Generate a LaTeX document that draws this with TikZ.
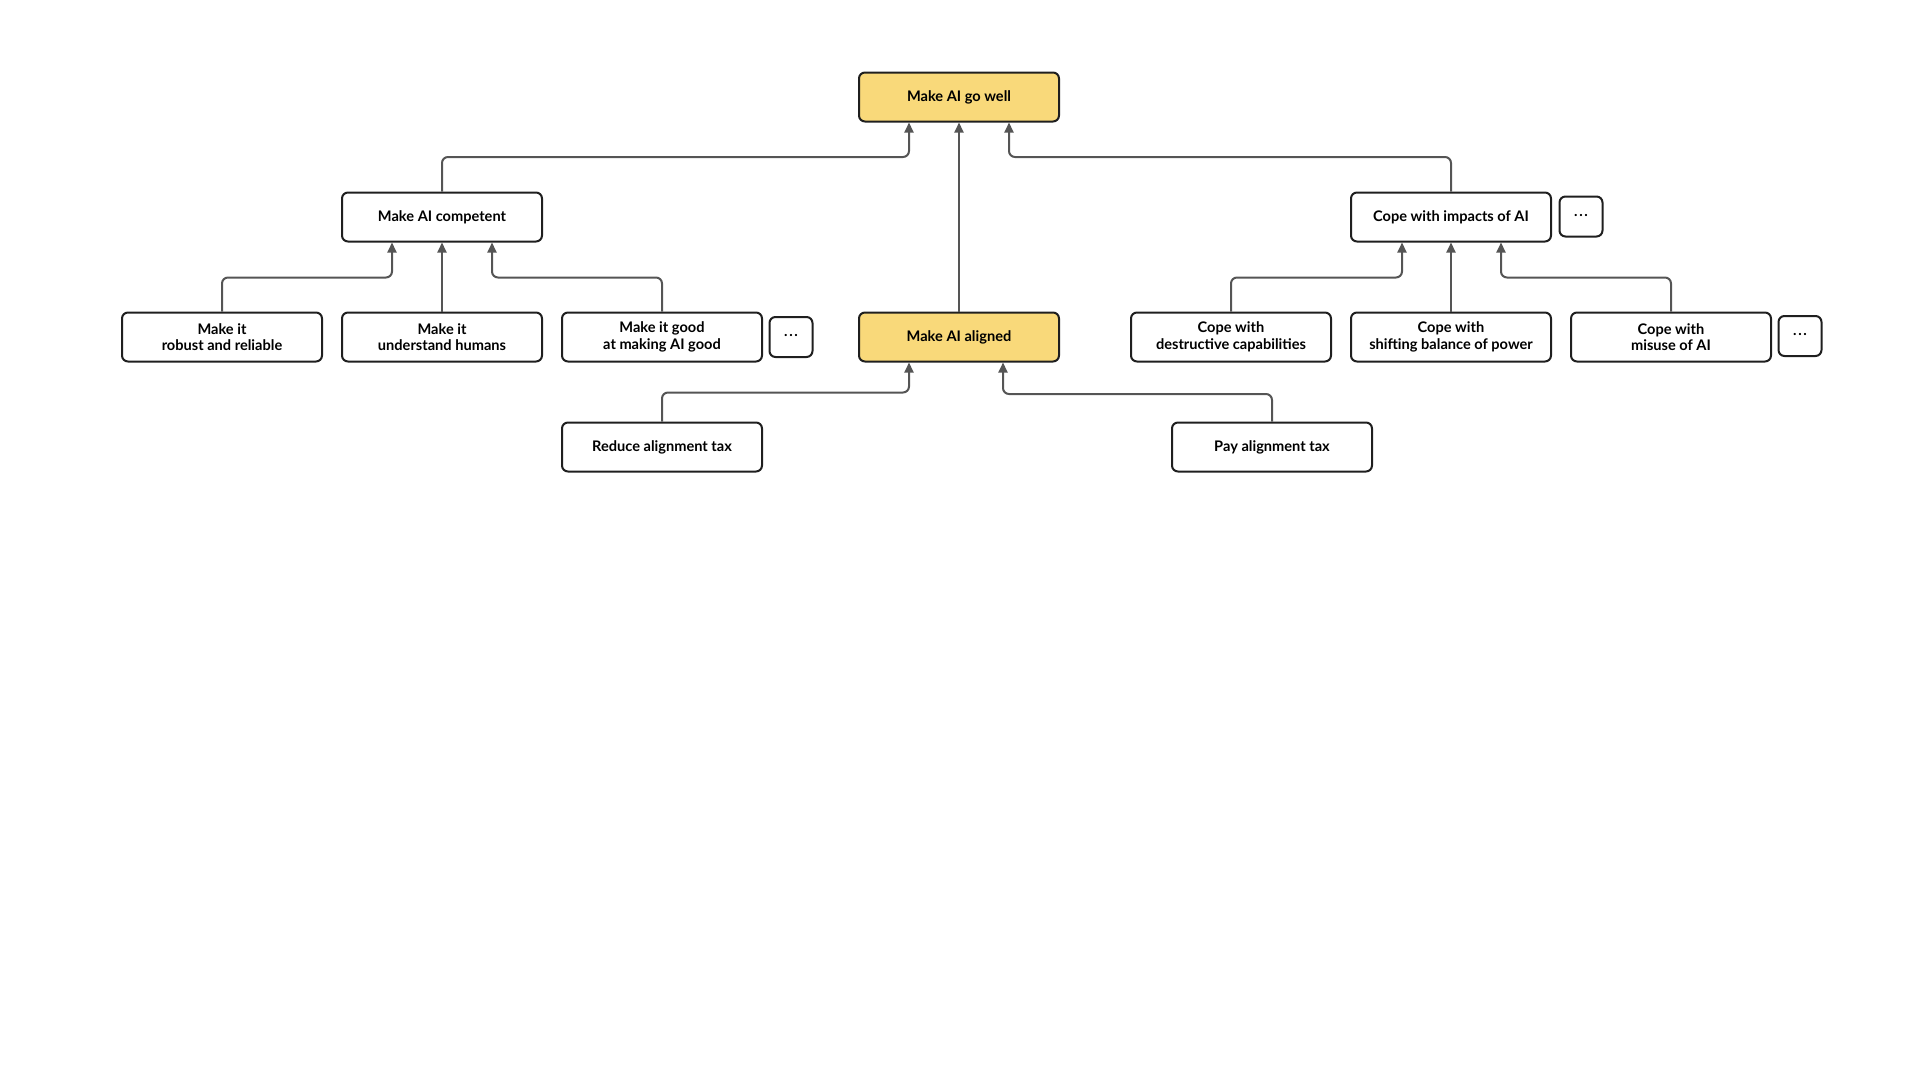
\documentclass[tikz,border=0pt]{standalone}
\usepackage{fontspec}
\setmainfont{Lato}
\usetikzlibrary{arrows.meta}
\definecolor{goalyellow}{HTML}{F9D97A}
\definecolor{linkgray}{HTML}{555555}
\definecolor{boxline}{HTML}{1F1F1F}
\newcommand{\moredots}{\raisebox{0.32ex}{.\kern1.6pt.\kern1.6pt.}}
\begin{document}
\begin{tikzpicture}[x=1pt, y=-1pt,
            box/.style = {shape=rectangle, rounded corners=6pt,
                          draw=boxline, line width=2pt, fill=white,
                          minimum width=200pt, minimum height=49pt, inner sep=0pt,
                          align=center, font=\fontsize{14.6}{16.5}\selectfont\bfseries},
            goal/.style = {box, fill=goalyellow},
            more/.style = {box, minimum width=43pt, minimum height=40pt},
            link/.style = {draw=linkgray, line width=2pt, rounded corners=6pt,
                           -{Triangle[length=10pt,width=9pt]}}]
  \useasboundingbox (0,0) rectangle (1920,1080);
  % goals
  \node[goal] (well) at (959,97) {Make AI go well};
  \node[box] (comp) at (442,217) {Make AI competent};
  \node[box] (imp) at (1451,217) {Cope with impacts of AI};
  \node[more] (impmore) at (1581,216.5) {\moredots};
  \node[goal] (aligned) at (959,337) {Make AI aligned};
  % competence
  \node[box] (rob) at (222,337) {Make it\\robust and reliable};
  \node[box] (und) at (442,337) {Make it\\understand humans};
  \node[box] (good) at (662,337) {Make it good\\at making AI good};
  \node[more] (goodmore) at (791,337) {\moredots};
  % impacts
  \node[box] (destr) at (1231,337) {Cope with\\destructive capabilities};
  \node[box] (shift) at (1451,337) {Cope with\\shifting balance of power};
  \node[box] (misuse) at (1671,337) {Cope with\\misuse of AI};
  \node[more] (misusemore) at (1800,336) {\moredots};
  % alignment tax
  \node[box] (reduce) at (662,447) {Reduce alignment tax};
  \node[box] (pay) at (1272,447) {Pay alignment tax};

  \draw[link] (comp.north) |- ([xshift=-50pt,yshift=-34.5pt]well.south) -- ([xshift=-50pt]well.south);
  \draw[link] (aligned.north) -- (well.south);
  \draw[link] (imp.north) |- ([xshift=50pt,yshift=-34.5pt]well.south) -- ([xshift=50pt]well.south);

  \draw[link] (rob.north) |- ([xshift=-50pt,yshift=-35pt]comp.south) -- ([xshift=-50pt]comp.south);
  \draw[link] (und.north) -- (comp.south);
  \draw[link] (good.north) |- ([xshift=50pt,yshift=-35pt]comp.south) -- ([xshift=50pt]comp.south);

  \draw[link] (destr.north) |- ([xshift=-49pt,yshift=-35pt]imp.south) -- ([xshift=-49pt]imp.south);
  \draw[link] (shift.north) -- (imp.south);
  \draw[link] (misuse.north) |- ([xshift=50pt,yshift=-35pt]imp.south) -- ([xshift=50pt]imp.south);

  \draw[link] (reduce.north) |- ([xshift=-50pt,yshift=-30pt]aligned.south) -- ([xshift=-50pt]aligned.south);
  \draw[link] (pay.north) |- ([xshift=44pt,yshift=-31.5pt]aligned.south) -- ([xshift=44pt]aligned.south);
\end{tikzpicture}
\end{document}
